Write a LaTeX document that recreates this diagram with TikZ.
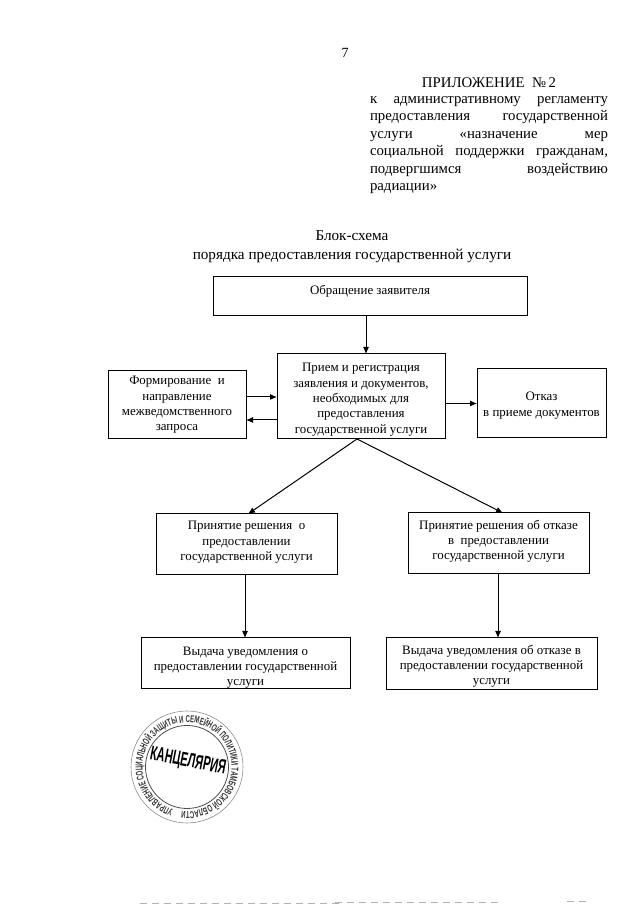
\documentclass[tikz,border=0pt]{standalone}
\usepackage{fontspec}
\setmainfont{Liberation Serif}
\setsansfont{Liberation Sans}
\newfontfamily\stampfont[FakeStretch=0.6]{Liberation Sans}
\usetikzlibrary{arrows.meta,decorations.text}
\tikzset{
  blockbox/.style={draw,line width=1pt,inner sep=0pt,outer sep=0pt,align=center,
    font=\fontsize{12.9}{15.3}\selectfont},
  plaintext/.style={inner sep=0pt,outer sep=0pt,align=center},
  flowarrow/.style={line width=1pt,-{Latex[length=7pt,width=6pt]}},
  stampline/.style={black!70,line width=0.8pt},
  scannoise/.style={black!30,line width=0.8pt,dash pattern=on 7pt off 5pt}
}
\newcommand{\justline}[3]{\hbox to 238pt{#1\hfill #2\hfill #3}}

\begin{document}
\begin{tikzpicture}[x=1pt,y=1pt]
\useasboundingbox (0,0) rectangle (640,905);
\node[plaintext,font=\fontsize{14}{15}\selectfont] (pagenum) at (345,852.5) {7};
\node[plaintext,font=\fontsize{14.8}{15}\selectfont] (annex) at (489,822.5) {ПРИЛОЖЕНИЕ~ №\,2};
\node[plaintext,font=\fontsize{14.8}{17.5}\selectfont,anchor=north west,align=left] (regl) at (370,808.5) {%
\justline{к}{административному}{регламенту}\\
\justline{предоставления}{}{государственной}\\
\justline{услуги}{«назначение}{мер}\\
\justline{социальной}{поддержки}{гражданам,}\\
\justline{подвергшимся}{}{воздействию}\\
радиации»};
\node[plaintext,font=\fontsize{15.2}{19.5}\selectfont] (title) at (352,658.5) {Блок-схема\\порядка предоставления государственной услуги};

\node[blockbox,minimum width=314pt,minimum height=39pt] (appeal) at (370,608.5) {Обращение заявителя\\[-2pt]\mbox{}};
\node[blockbox,minimum width=168pt,minimum height=85pt] (reception) at (361,508.5) {\strut\\[-11.3pt]Прием и регистрация\\заявления и документов,\\необходимых для\\предоставления\\государственной услуги};
\node[blockbox,minimum width=138pt,minimum height=68pt] (request) at (177,500) {Формирование~ и\\направление\\межведомственного\\запроса};
\node[blockbox,minimum width=129pt,minimum height=69pt] (refusal) at (541.5,501.5) {\strut\\[-13.3pt]Отказ\\в приеме документов};
\node[blockbox,minimum width=181pt,minimum height=61pt] (decision) at (246.5,360.5) {Принятие решения~ о\\предоставлении\\государственной услуги\\[-8pt]\mbox{}};
\node[blockbox,minimum width=181pt,minimum height=61pt] (denial) at (498.5,361.5) {Принятие решения об отказе\\в~ предоставлении\\государственной услуги\\[-8pt]\mbox{}};
\node[blockbox,minimum width=209pt,minimum height=51pt] (notice) at (245.5,241.5) {\strut\\[-9.3pt]Выдача уведомления о\\предоставлении государственной\\услуги};
\node[blockbox,minimum width=211pt,minimum height=52pt] (denialnotice) at (491.5,241) {\strut\\[-12.3pt]Выдача уведомления об отказе в\\предоставлении государственной\\услуги};

\draw[flowarrow] ([xshift=-4pt]appeal.south) -- ([xshift=5pt]reception.north);
\draw[flowarrow] ([yshift=8pt]request.east) -- ([yshift=8pt]request.east -| reception.west);
\draw[flowarrow] ([yshift=-15pt]request.east -| reception.west) -- ([yshift=-15pt]request.east);
\draw[flowarrow] (refusal.west -| reception.east) -- (refusal.west);
\draw[flowarrow] ([xshift=-4pt]reception.south) -- ([xshift=1.5pt]decision.north);
\draw[flowarrow] ([xshift=-4pt]reception.south) -- ([xshift=4.5pt]denial.north);
\draw[flowarrow] ([xshift=-1.5pt]decision.south) -- ([xshift=-0.5pt]notice.north);
\draw[flowarrow] ([xshift=-0.5pt]denial.south) -- ([xshift=6.5pt]denialnotice.north);

% stamp
\coordinate (stampc) at (187,138);
\draw[black!45,line width=0.6pt] (stampc) circle (56);
\draw[stampline] (stampc) circle (41.5);
\path[decorate,decoration={text along path,
  text={|\stampfont\bfseries\fontsize{10}{10}\selectfont\color{black!80}|УПРАВЛЕНИЕ СОЦИАЛЬНОЙ ЗАЩИТЫ И СЕМЕЙНОЙ ПОЛИТИКИ ТАМБОВСКОЙ ОБЛАСТИ *}}]
  (stampc) ++(252:44.5) arc (252:-95:44.5);
\node[plaintext,font=\sffamily\bfseries\fontsize{20}{20}\selectfont,rotate=-11,xscale=0.55] (stamptext) at (188,143) {КАНЦЕЛЯРИЯ};

% scan edge
\draw[scannoise] (140,1.5) -- (340,1.5);
\draw[scannoise] (335,3) -- (500,3);
\draw[scannoise] (567,4) -- (590,4);
\end{tikzpicture}
\end{document}
